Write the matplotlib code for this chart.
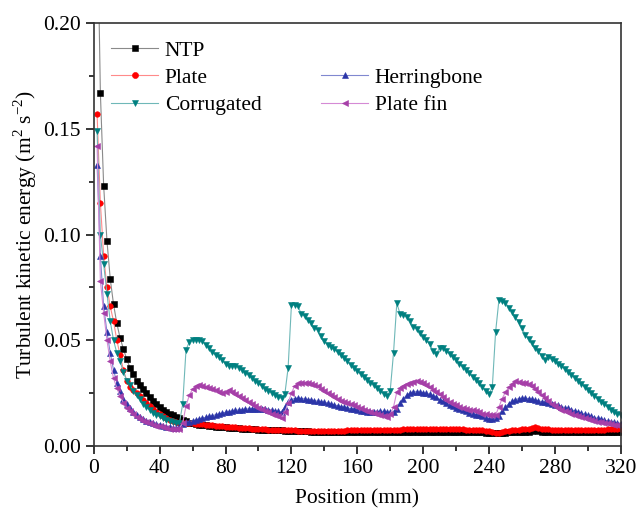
import numpy as np
import matplotlib
matplotlib.use("Agg")
import matplotlib.pyplot as plt
from matplotlib.lines import Line2D
from matplotlib.ticker import MultipleLocator, FormatStrFormatter

plt.rcParams['font.family'] = ['Liberation Serif', 'DejaVu Serif']
plt.rcParams['mathtext.fontset'] = 'custom'
plt.rcParams['mathtext.rm'] = 'Liberation Serif'

# sample positions along the channel (mm)
position = np.arange(2, 321, 2)

ntp = [
    0.26, 0.167, 0.123, 0.097, 0.079, 0.067, 0.058, 0.051, 0.046, 0.041,
    0.037, 0.034, 0.031, 0.029, 0.027, 0.025, 0.023, 0.0215, 0.020, 0.0185,
    0.0172, 0.0162, 0.0153, 0.0145, 0.0138, 0.0131, 0.0124, 0.0117, 0.0111, 0.0107,
    0.0104, 0.0102, 0.0100, 0.0098, 0.0096, 0.0094, 0.0092, 0.0090, 0.0089, 0.0088,
    0.0087, 0.0086, 0.0085, 0.0084, 0.0083, 0.0082, 0.0081, 0.0080, 0.0079, 0.0078,
    0.0077, 0.0077, 0.0076, 0.0075, 0.0075, 0.0074, 0.0074, 0.0073, 0.0073, 0.0072,
    0.0072, 0.0071, 0.0071, 0.0070, 0.0070, 0.0069, 0.0069, 0.0068, 0.0068, 0.0068,
    0.0067, 0.0067, 0.0067, 0.0066, 0.0066, 0.0066, 0.0066, 0.0066, 0.0065, 0.0065,
    0.0065, 0.0065, 0.0065, 0.0065, 0.0065, 0.0065, 0.0065, 0.0065, 0.0065, 0.0065,
    0.0065, 0.0065, 0.0065, 0.0065, 0.0065, 0.0065, 0.0065, 0.0065, 0.0065, 0.0065,
    0.0065, 0.0065, 0.0065, 0.0065, 0.0065, 0.0065, 0.0065, 0.0065, 0.0065, 0.0065,
    0.0065, 0.0065, 0.0065, 0.0065, 0.0065, 0.0065, 0.0065, 0.0065, 0.0064, 0.0064,
    0.0062, 0.0060, 0.0061, 0.0063, 0.0064, 0.0065, 0.0065, 0.0066, 0.0066, 0.0066,
    0.0067, 0.0069, 0.0072, 0.0074, 0.0073, 0.0069, 0.0067, 0.0066, 0.0066, 0.0066,
    0.0066, 0.0066, 0.0066, 0.0066, 0.0066, 0.0066, 0.0066, 0.0066, 0.0066, 0.0066,
    0.0066, 0.0066, 0.0066, 0.0066, 0.0066, 0.0066, 0.0066, 0.0066, 0.0066, 0.0066,
]

plate = [
    0.157, 0.115, 0.090, 0.075, 0.066, 0.059, 0.050, 0.043, 0.036, 0.031,
    0.028, 0.0265, 0.025, 0.0235, 0.022, 0.0205, 0.019, 0.0175, 0.0162, 0.0150,
    0.0140, 0.0131, 0.0124, 0.0118, 0.0113, 0.0109, 0.0107, 0.0108, 0.0108, 0.0107,
    0.0106, 0.0105, 0.0103, 0.0102, 0.0100, 0.0098, 0.0097, 0.0095, 0.0094, 0.0092,
    0.0091, 0.0090, 0.0088, 0.0087, 0.0086, 0.0085, 0.0084, 0.0083, 0.0082, 0.0081,
    0.0080, 0.0079, 0.0078, 0.0078, 0.0077, 0.0076, 0.0076, 0.0075, 0.0075, 0.0074,
    0.0074, 0.0073, 0.0073, 0.0073, 0.0072, 0.0072, 0.0072, 0.0072, 0.0072, 0.0072,
    0.0072, 0.0072, 0.0072, 0.0073, 0.0073, 0.0073, 0.0074, 0.0074, 0.0074, 0.0075,
    0.0075, 0.0075, 0.0076, 0.0076, 0.0076, 0.0077, 0.0077, 0.0077, 0.0078, 0.0078,
    0.0078, 0.0078, 0.0078, 0.0079, 0.0079, 0.0079, 0.0079, 0.0079, 0.0079, 0.0079,
    0.0079, 0.0079, 0.0080, 0.0080, 0.0080, 0.0080, 0.0080, 0.0080, 0.0080, 0.0079,
    0.0079, 0.0079, 0.0078, 0.0078, 0.0078, 0.0077, 0.0076, 0.0075, 0.0073, 0.0070,
    0.0066, 0.0063, 0.0064, 0.0067, 0.0070, 0.0073, 0.0075, 0.0077, 0.0078, 0.0079,
    0.0080, 0.0082, 0.0085, 0.0088, 0.0087, 0.0083, 0.0080, 0.0079, 0.0078, 0.0078,
    0.0078, 0.0078, 0.0078, 0.0078, 0.0078, 0.0078, 0.0078, 0.0078, 0.0078, 0.0078,
    0.0078, 0.0078, 0.0078, 0.0078, 0.0078, 0.0079, 0.0079, 0.0079, 0.0079, 0.0079,
]

corrugated = [
    0.149, 0.100, 0.086, 0.072, 0.059, 0.050, 0.044, 0.040, 0.035, 0.031,
    0.029, 0.026, 0.024, 0.0225, 0.020, 0.0185, 0.0170, 0.0158, 0.0148, 0.0140,
    0.0132, 0.0125, 0.0119, 0.0114, 0.0110, 0.0108, 0.0200, 0.0455, 0.0493, 0.0500,
    0.0502, 0.0500, 0.0495, 0.0480, 0.0462, 0.0445, 0.0430, 0.0420, 0.0405, 0.0390,
    0.0380, 0.0378, 0.0380, 0.0370, 0.0360, 0.0347, 0.0335, 0.0322, 0.0310, 0.0297,
    0.0285, 0.0272, 0.0262, 0.0252, 0.0242, 0.0232, 0.0226, 0.0245, 0.0370, 0.0665,
    0.0668, 0.0660, 0.0625, 0.0615, 0.0595, 0.0580, 0.0560, 0.0550, 0.0520, 0.0495,
    0.0480, 0.0470, 0.0460, 0.0445, 0.0430, 0.0415, 0.0400, 0.0385, 0.0370, 0.0355,
    0.0342, 0.0328, 0.0314, 0.0300, 0.0287, 0.0273, 0.0260, 0.0248, 0.0236, 0.0262,
    0.0440, 0.0675, 0.0625, 0.0620, 0.0610, 0.0590, 0.0565, 0.0555, 0.0535, 0.0518,
    0.0500, 0.0482, 0.0450, 0.0435, 0.0465, 0.0462, 0.0450, 0.0436, 0.0420, 0.0405,
    0.0390, 0.0375, 0.0360, 0.0344, 0.0328, 0.0312, 0.0296, 0.0280, 0.0262, 0.0245,
    0.0280, 0.0540, 0.0690, 0.0685, 0.0678, 0.0655, 0.0635, 0.0610, 0.0585, 0.0560,
    0.0525, 0.0505, 0.0485, 0.0465, 0.0450, 0.0425, 0.0405, 0.0420, 0.0410, 0.0400,
    0.0390, 0.0378, 0.0365, 0.0352, 0.0338, 0.0324, 0.0310, 0.0295, 0.0280, 0.0266,
    0.0252, 0.0238, 0.0224, 0.0210, 0.0197, 0.0185, 0.0173, 0.0162, 0.0152, 0.0145,
]

herringbone = [
    0.133, 0.090, 0.066, 0.054, 0.044, 0.036, 0.030, 0.026, 0.0225, 0.020,
    0.0178, 0.0162, 0.0149, 0.0138, 0.0129, 0.0121, 0.0114, 0.0108, 0.0103, 0.0099,
    0.0095, 0.0092, 0.0089, 0.0087, 0.0086, 0.0088, 0.0105, 0.0112, 0.0116, 0.0120,
    0.0124, 0.0128, 0.0132, 0.0136, 0.0140, 0.0144, 0.0148, 0.0152, 0.0156, 0.0160,
    0.0163, 0.0166, 0.0169, 0.0171, 0.0173, 0.0175, 0.0176, 0.0177, 0.0177, 0.0177,
    0.0176, 0.0175, 0.0173, 0.0170, 0.0167, 0.0164, 0.0162, 0.0185, 0.0210, 0.0220,
    0.0225, 0.0226, 0.0225, 0.0223, 0.0220, 0.0218, 0.0215, 0.0212, 0.0210, 0.0207,
    0.0203, 0.0199, 0.0195, 0.0191, 0.0187, 0.0183, 0.0180, 0.0177, 0.0174, 0.0171,
    0.0168, 0.0165, 0.0163, 0.0162, 0.0162, 0.0163, 0.0165, 0.0164, 0.0162, 0.0160,
    0.0162, 0.0175, 0.0205, 0.0225, 0.0240, 0.0250, 0.0256, 0.0257, 0.0255, 0.0252,
    0.0249, 0.0245, 0.0238, 0.0230, 0.0220, 0.0212, 0.0204, 0.0196, 0.0188, 0.0182,
    0.0176, 0.0170, 0.0164, 0.0158, 0.0153, 0.0149, 0.0145, 0.0140, 0.0133, 0.0128,
    0.0128, 0.0131, 0.0140, 0.0165, 0.0185, 0.0200, 0.0212, 0.0220, 0.0224, 0.0226,
    0.0226, 0.0225, 0.0222, 0.0218, 0.0214, 0.0210, 0.0207, 0.0203, 0.0199, 0.0196,
    0.0192, 0.0187, 0.0182, 0.0178, 0.0172, 0.0167, 0.0161, 0.0156, 0.0150, 0.0145,
    0.0140, 0.0135, 0.0131, 0.0127, 0.0123, 0.0119, 0.0115, 0.0112, 0.0109, 0.0106,
]

plate_fin = [
    0.142, 0.078, 0.063, 0.050, 0.040, 0.032, 0.0275, 0.0235, 0.0205, 0.0182,
    0.0164, 0.0150, 0.0139, 0.0129, 0.0121, 0.0114, 0.0108, 0.0102, 0.0097, 0.0093,
    0.0089, 0.0086, 0.0083, 0.0081, 0.0079, 0.0083, 0.0110, 0.0190, 0.0240, 0.0270,
    0.0284, 0.0288, 0.0286, 0.0280, 0.0276, 0.0270, 0.0266, 0.0258, 0.0250, 0.0255,
    0.0264, 0.0258, 0.0246, 0.0238, 0.0228, 0.0218, 0.0208, 0.0200, 0.0190, 0.0182,
    0.0175, 0.0167, 0.0160, 0.0153, 0.0146, 0.0140, 0.0134, 0.0160, 0.0205, 0.0250,
    0.0285, 0.0296, 0.0300, 0.0300, 0.0296, 0.0292, 0.0287, 0.0282, 0.0272, 0.0262,
    0.0252, 0.0243, 0.0232, 0.0222, 0.0213, 0.0207, 0.0202, 0.0198, 0.0192, 0.0186,
    0.0180, 0.0173, 0.0167, 0.0161, 0.0155, 0.0150, 0.0146, 0.0142, 0.0139, 0.0150,
    0.0185, 0.0255, 0.0275, 0.0285, 0.0292, 0.0298, 0.0305, 0.0310, 0.0305, 0.0296,
    0.0290, 0.0280, 0.0266, 0.0255, 0.0244, 0.0230, 0.0218, 0.0208, 0.0200, 0.0193,
    0.0187, 0.0182, 0.0177, 0.0173, 0.0169, 0.0164, 0.0159, 0.0154, 0.0150, 0.0147,
    0.0146, 0.0147, 0.0185, 0.0225, 0.0255, 0.0278, 0.0295, 0.0308, 0.0305, 0.0300,
    0.0298, 0.0294, 0.0285, 0.0272, 0.0258, 0.0240, 0.0226, 0.0213, 0.0201, 0.0190,
    0.0181, 0.0173, 0.0166, 0.0159, 0.0153, 0.0147, 0.0142, 0.0137, 0.0132, 0.0127,
    0.0123, 0.0119, 0.0116, 0.0113, 0.0110, 0.0107, 0.0104, 0.0102, 0.0100, 0.0098,
]

labels = ["NTP", "Plate", "Corrugated", "Herringbone", "Plate fin"]
series = [ntp, plate, corrugated, herringbone, plate_fin]
markers = ["s", "o", "v", "^", "<"]
mark_colors = ["#000000", "#ff0000", "#008080", "#2b35a8", "#a63fa8"]
line_colors = ["#8a8a8a", "#ff8a8a", "#6fb8b8", "#8088d0", "#d58ad5"]

fig = plt.figure(figsize=(6.38, 5.11), dpi=100)
ax = fig.add_axes([0.147, 0.127, 0.826, 0.828])

handles = []
for y, lab, mk, mc, lc in zip(series, labels, markers, mark_colors, line_colors):
    h, = ax.plot(position, y, color=lc, lw=0.8, marker=mk, markersize=4,
                 markerfacecolor=mc, markeredgecolor=mc, markeredgewidth=0.4,
                 label=lab)
    handles.append(h)

ax.set_xlim(0, 320)
ax.set_ylim(0, 0.20)
ax.xaxis.set_major_locator(MultipleLocator(40))
ax.xaxis.set_minor_locator(MultipleLocator(20))
ax.yaxis.set_major_locator(MultipleLocator(0.05))
ax.yaxis.set_minor_locator(MultipleLocator(0.025))
ax.yaxis.set_major_formatter(FormatStrFormatter('%.2f'))
ax.tick_params(which='both', direction='out', top=False, right=False,
               labelsize=15.5, width=1.1)
ax.tick_params(which='major', length=6)
ax.tick_params(which='minor', length=3.5)
for s in ax.spines.values():
    s.set_linewidth(1.2)
    s.set_color('#333333')

ax.set_xlabel("Position (mm)", fontsize=15.5, labelpad=8)
ax.set_ylabel("Turbulent kinetic energy (m$^2$ s$^{-2}$)", fontsize=15.5, labelpad=3)

blank = Line2D([], [], linestyle='none')
leg_handles = [handles[0], handles[1], handles[2], blank, handles[3], handles[4]]
leg_labels = ["NTP", "Plate", "Corrugated", "", "Herringbone", "Plate fin"]
ax.legend(leg_handles, leg_labels, ncol=2, loc='upper left',
          bbox_to_anchor=(-0.004, 1.004), frameon=False, fontsize=15.5,
          handlelength=2.2, labelspacing=0.33, columnspacing=2.75,
          handletextpad=0.3, markerscale=1.1)

fig.savefig("out.png", dpi=100)
